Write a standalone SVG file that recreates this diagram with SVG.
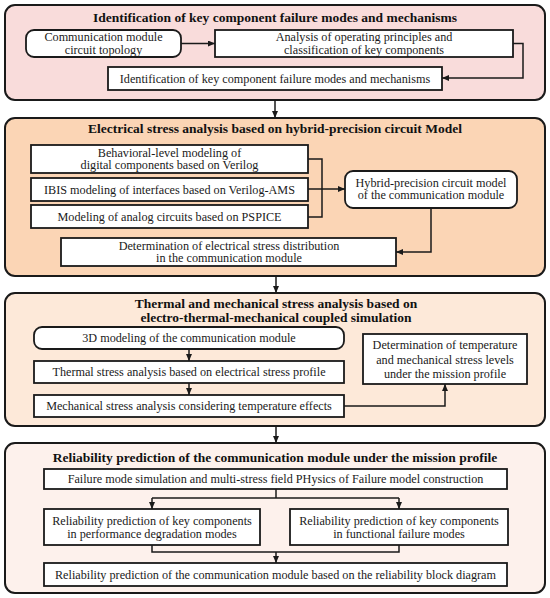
<svg xmlns="http://www.w3.org/2000/svg" width="550" height="598" viewBox="0 0 550 598">
<style>
.panel{stroke:#1a1a1a;stroke-width:2}
.box{fill:#fff;stroke:#1a1a1a;stroke-width:1.8}
.t{font-family:"Liberation Serif","Times New Roman",serif;font-size:12.2px;fill:#1a1a1a;text-anchor:middle}
.h{font-family:"Liberation Serif","Times New Roman",serif;font-size:13.5px;font-weight:bold;fill:#111;text-anchor:middle}
.c{fill:none;stroke:#1a1a1a;stroke-width:1.5}
</style>
<defs>
<marker id="ah" markerUnits="userSpaceOnUse" markerWidth="7" markerHeight="6" refX="7" refY="3" orient="auto">
<path d="M0,0 L7,3 L0,6 z" fill="#1a1a1a"/>
</marker>
</defs>
<rect width="550" height="598" fill="#fff"/>

<g id="panel1">
<rect class="panel" x="5" y="5" width="540" height="95" rx="10" fill="#F9DCDB"/>
<text class="h" x="275" y="21.5">Identification of key component failure modes and mechanisms</text>
</g>
<g id="n-topology">
<rect class="box" x="26" y="30" width="155" height="27" rx="8"/>
<text class="t" x="103.5" y="41">Communication module</text>
<text class="t" x="103.5" y="53.5">circuit topology</text>
</g>
<g id="n-analysis">
<rect class="box" x="215" y="30" width="298" height="27"/>
<text class="t" x="364" y="41">Analysis of operating principles and</text>
<text class="t" x="364" y="53.5">classification of key components</text>
</g>
<g id="n-identification">
<rect class="box" x="108" y="67" width="334" height="23"/>
<text class="t" x="275" y="82.5">Identification of key component failure modes and mechanisms</text>
</g>

<g id="panel2">
<rect class="panel" x="5" y="118" width="540" height="158" rx="10" fill="#FBD5B5"/>
<text class="h" x="275" y="133">Electrical stress analysis based on hybrid-precision circuit Model</text>
</g>
<g id="n-behavioral">
<rect class="box" x="31" y="145" width="277" height="28"/>
<text class="t" x="169.5" y="156.5">Behavioral-level modeling of</text>
<text class="t" x="169.5" y="169">digital components based on Verilog</text>
</g>
<g id="n-ibis">
<rect class="box" x="31" y="178" width="277" height="23"/>
<text class="t" x="169.5" y="193.5">IBIS modeling of interfaces based on Verilog-AMS</text>
</g>
<g id="n-pspice">
<rect class="box" x="31" y="205" width="277" height="23"/>
<text class="t" x="169.5" y="220.5">Modeling of analog circuits based on PSPICE</text>
</g>
<g id="n-hybrid">
<rect class="box" x="345" y="171" width="172" height="37" rx="8"/>
<text class="t" x="431" y="186.5">Hybrid-precision circuit model</text>
<text class="t" x="431" y="199">of the communication module</text>
</g>
<g id="n-electrical">
<rect class="box" x="61" y="238" width="335" height="28"/>
<text class="t" x="229" y="249.5">Determination of electrical stress distribution</text>
<text class="t" x="229" y="262">in the communication module</text>
</g>

<g id="panel3">
<rect class="panel" x="5" y="293" width="540" height="133" rx="10" fill="#FDE9D9"/>
<text class="h" x="276" y="307.5">Thermal and mechanical stress analysis based on</text>
<text class="h" x="276" y="321.5">electro-thermal-mechanical coupled simulation</text>
</g>
<g id="n-3d">
<rect class="box" x="34" y="327" width="310" height="22" rx="8"/>
<text class="t" x="189" y="342">3D modeling of the communication module</text>
</g>
<g id="n-thermal">
<rect class="box" x="34" y="361" width="310" height="22"/>
<text class="t" x="189" y="376">Thermal stress analysis based on electrical stress profile</text>
</g>
<g id="n-mechanical">
<rect class="box" x="34" y="395" width="310" height="22"/>
<text class="t" x="189" y="410">Mechanical stress analysis considering temperature effects</text>
</g>
<g id="n-levels">
<rect class="box" x="363" y="334" width="164" height="50"/>
<text class="t" x="445" y="349">Determination of temperature</text>
<text class="t" x="445" y="363.5">and mechanical stress levels</text>
<text class="t" x="445" y="378">under the mission profile</text>
</g>

<g id="panel4">
<rect class="panel" x="5" y="443" width="540" height="150" rx="10" fill="#FDF1EC"/>
<text class="h" x="275" y="461.5">Reliability prediction of the communication module under the mission profile</text>
</g>
<g id="n-failure">
<rect class="box" x="44" y="469" width="463" height="20"/>
<text class="t" x="275.5" y="483">Failure mode simulation and multi-stress field PHysics of Failure model construction</text>
</g>
<g id="n-degradation">
<rect class="box" x="44" y="509" width="216" height="36"/>
<text class="t" x="152" y="525">Reliability prediction of key components</text>
<text class="t" x="152" y="537.5">in performance degradation modes</text>
</g>
<g id="n-functional">
<rect class="box" x="290" y="509" width="218" height="36"/>
<text class="t" x="399" y="525">Reliability prediction of key components</text>
<text class="t" x="399" y="537.5">in functional failure modes</text>
</g>
<g id="n-rbd">
<rect class="box" x="44" y="563" width="463" height="23"/>
<text class="t" x="275.5" y="578.5">Reliability prediction of the communication module based on the reliability block diagram</text>
</g>

<g id="connectors">
<line class="c" x1="275" y1="100" x2="275" y2="118" marker-end="url(#ah)"/>
<line class="c" x1="276" y1="276" x2="276" y2="293" marker-end="url(#ah)"/>
<line class="c" x1="276" y1="426" x2="276" y2="443" marker-end="url(#ah)"/>
<line class="c" x1="181" y1="43.5" x2="215" y2="43.5" marker-end="url(#ah)"/>
<polyline class="c" points="513,43.5 523,43.5 523,78 442,78" marker-end="url(#ah)"/>
<polyline class="c" points="308,159 322,159 322,217 308,217"/>
<line class="c" x1="308" y1="189" x2="345" y2="189" marker-end="url(#ah)"/>
<polyline class="c" points="431,208 431,252 396,252" marker-end="url(#ah)"/>
<line class="c" x1="189" y1="349" x2="189" y2="361" marker-end="url(#ah)"/>
<line class="c" x1="189" y1="383" x2="189" y2="395" marker-end="url(#ah)"/>
<polyline class="c" points="344,406 445,406 445,384" marker-end="url(#ah)"/>
<line class="c" x1="276" y1="489" x2="276" y2="498"/>
<line class="c" x1="152" y1="498" x2="399" y2="498"/>
<line class="c" x1="152" y1="498" x2="152" y2="509" marker-end="url(#ah)"/>
<line class="c" x1="399" y1="498" x2="399" y2="509" marker-end="url(#ah)"/>
<polyline class="c" points="152,545 152,552 399,552 399,545"/>
<line class="c" x1="276" y1="552" x2="276" y2="563" marker-end="url(#ah)"/>
</g>
</svg>
